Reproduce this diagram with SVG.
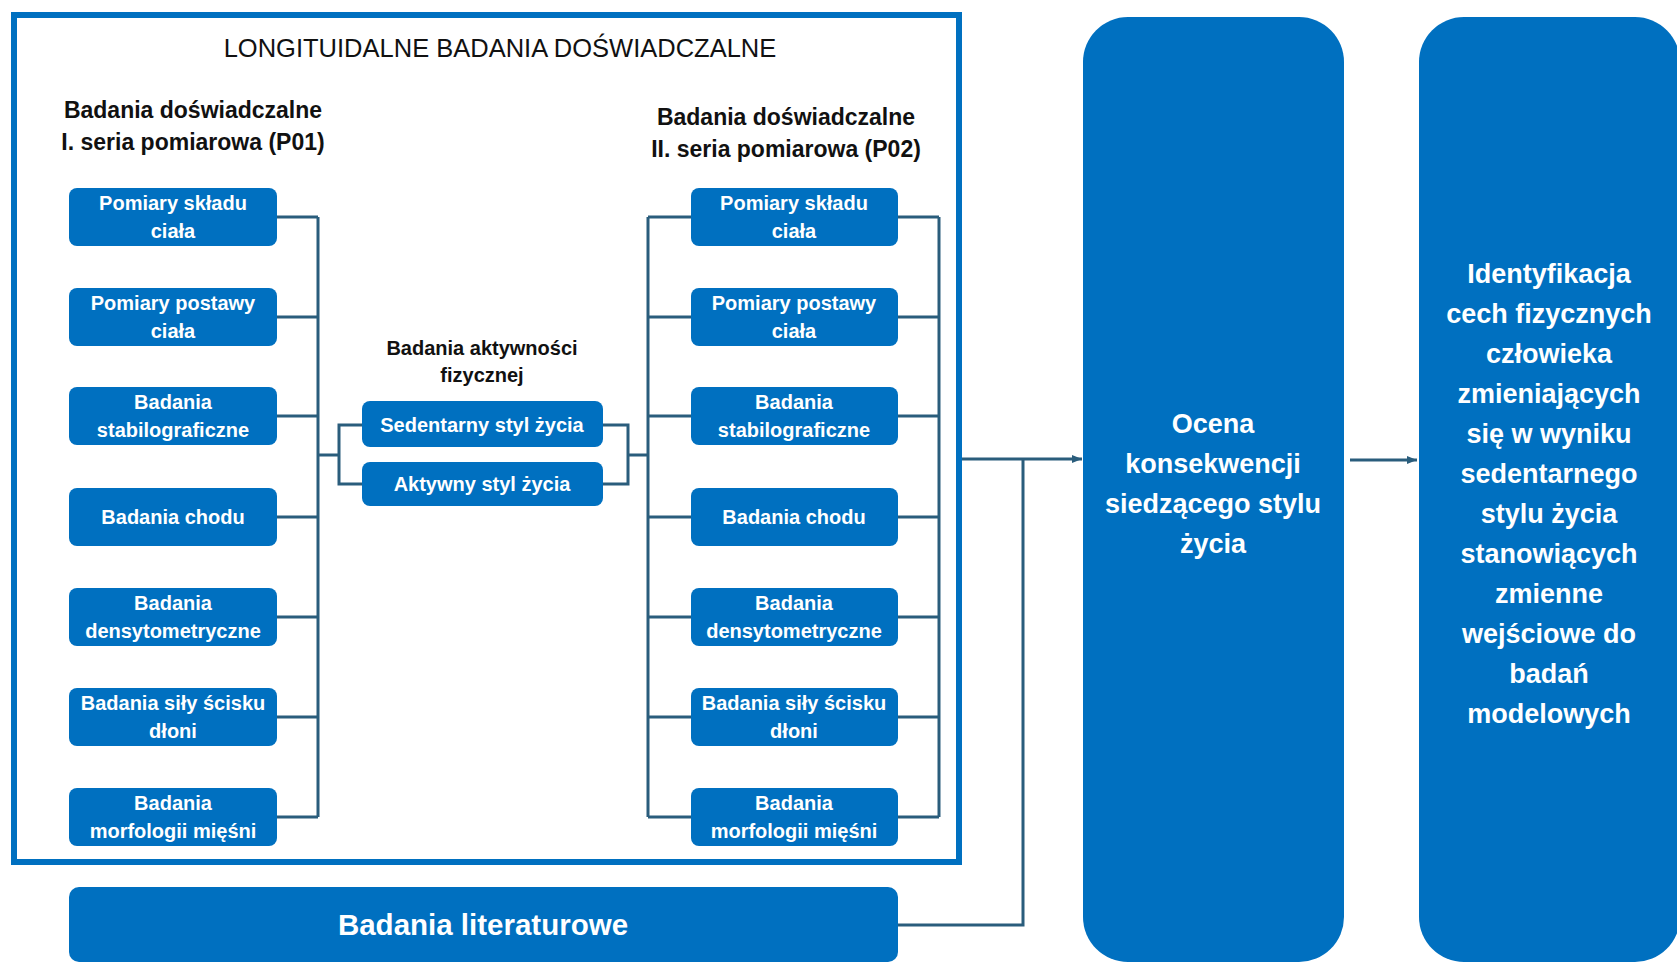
<svg xmlns="http://www.w3.org/2000/svg" width="1677" height="964" viewBox="0 0 1677 964">
<defs>
<style>
.box{fill:#0070C0}
.bt{font-family:"Liberation Sans",Arial,sans-serif;font-weight:bold;font-size:20px;fill:#fff;text-anchor:middle}
.hd{font-family:"Liberation Sans",Arial,sans-serif;font-weight:bold;font-size:23px;fill:#111;text-anchor:middle}
.mh{font-family:"Liberation Sans",Arial,sans-serif;font-weight:bold;font-size:20px;fill:#111;text-anchor:middle}
.big{font-family:"Liberation Sans",Arial,sans-serif;font-weight:bold;font-size:27px;fill:#fff;text-anchor:middle}
.ln{fill:none;stroke:#2A5D7C;stroke-width:3}
</style>
<marker id="arr" viewBox="0 0 10 10" refX="10" refY="5" markerWidth="10" markerHeight="10" markerUnits="userSpaceOnUse" orient="auto">
<path d="M0,1 L10,5 L0,9 Z" fill="#2A5D7C"/>
</marker>
</defs>
<rect width="1677" height="964" fill="#fff"/>

<g id="frame">
<rect x="14" y="15" width="945" height="847" fill="none" stroke="#0070C0" stroke-width="6"/>
<text x="500" y="57" style="font-family:'Liberation Sans',Arial,sans-serif;font-size:25.5px;fill:#111" text-anchor="middle">LONGITUIDALNE BADANIA DOŚWIADCZALNE</text>
</g>

<g id="connectors">
<path class="ln" d="M277,217 H318 M277,317 H318 M277,416 H318 M277,517 H318 M277,617 H318 M277,717 H318 M277,817 H318 M318,217 V817"/>
<path class="ln" d="M318,455 H339 M362,425 H339 V484 H362"/>
<path class="ln" d="M603,425 H628 V484 H603 M628,455 H648"/>
<path class="ln" d="M691,217 H648 M691,317 H648 M691,416 H648 M691,517 H648 M691,617 H648 M691,717 H648 M691,817 H648 M648,217 V817"/>
<path class="ln" d="M898,217 H939 M898,317 H939 M898,416 H939 M898,517 H939 M898,617 H939 M898,717 H939 M898,817 H939 M939,217 V817"/>
<path class="ln" d="M962,459 H1082" marker-end="url(#arr)"/>
<path class="ln" d="M898,925 H1023 V459"/>
<path class="ln" d="M1350,460 H1417" marker-end="url(#arr)"/>
</g>

<g id="header-left">
<text class="hd" x="193" y="118">Badania doświadczalne</text>
<text class="hd" x="193" y="150">I. seria pomiarowa (P01)</text>
</g>
<g id="header-right">
<text class="hd" x="786" y="125">Badania doświadczalne</text>
<text class="hd" x="786" y="157">II. seria pomiarowa (P02)</text>
</g>
<g id="header-mid">
<text class="mh" x="482" y="355">Badania aktywności</text>
<text class="mh" x="482" y="382">fizycznej</text>
</g>

<g id="l1"><rect class="box" x="69" y="188" width="208" height="58" rx="8"/><text class="bt" x="173" y="210">Pomiary składu</text><text class="bt" x="173" y="238">ciała</text></g>
<g id="l2"><rect class="box" x="69" y="288" width="208" height="58" rx="8"/><text class="bt" x="173" y="310">Pomiary postawy</text><text class="bt" x="173" y="338">ciała</text></g>
<g id="l3"><rect class="box" x="69" y="387" width="208" height="58" rx="8"/><text class="bt" x="173" y="409">Badania</text><text class="bt" x="173" y="437">stabilograficzne</text></g>
<g id="l4"><rect class="box" x="69" y="488" width="208" height="58" rx="8"/><text class="bt" x="173" y="524">Badania chodu</text></g>
<g id="l5"><rect class="box" x="69" y="588" width="208" height="58" rx="8"/><text class="bt" x="173" y="610">Badania</text><text class="bt" x="173" y="638">densytometryczne</text></g>
<g id="l6"><rect class="box" x="69" y="688" width="208" height="58" rx="8"/><text class="bt" x="173" y="710">Badania siły ścisku</text><text class="bt" x="173" y="738">dłoni</text></g>
<g id="l7"><rect class="box" x="69" y="788" width="208" height="58" rx="8"/><text class="bt" x="173" y="810">Badania</text><text class="bt" x="173" y="838">morfologii mięśni</text></g>

<g id="m1"><rect class="box" x="362" y="401" width="241" height="46" rx="8"/><text class="bt" x="482" y="432">Sedentarny styl życia</text></g>
<g id="m2"><rect class="box" x="362" y="462" width="241" height="44" rx="8"/><text class="bt" x="482" y="491">Aktywny styl życia</text></g>

<g id="r1"><rect class="box" x="691" y="188" width="207" height="58" rx="8"/><text class="bt" x="794" y="210">Pomiary składu</text><text class="bt" x="794" y="238">ciała</text></g>
<g id="r2"><rect class="box" x="691" y="288" width="207" height="58" rx="8"/><text class="bt" x="794" y="310">Pomiary postawy</text><text class="bt" x="794" y="338">ciała</text></g>
<g id="r3"><rect class="box" x="691" y="387" width="207" height="58" rx="8"/><text class="bt" x="794" y="409">Badania</text><text class="bt" x="794" y="437">stabilograficzne</text></g>
<g id="r4"><rect class="box" x="691" y="488" width="207" height="58" rx="8"/><text class="bt" x="794" y="524">Badania chodu</text></g>
<g id="r5"><rect class="box" x="691" y="588" width="207" height="58" rx="8"/><text class="bt" x="794" y="610">Badania</text><text class="bt" x="794" y="638">densytometryczne</text></g>
<g id="r6"><rect class="box" x="691" y="688" width="207" height="58" rx="8"/><text class="bt" x="794" y="710">Badania siły ścisku</text><text class="bt" x="794" y="738">dłoni</text></g>
<g id="r7"><rect class="box" x="691" y="788" width="207" height="58" rx="8"/><text class="bt" x="794" y="810">Badania</text><text class="bt" x="794" y="838">morfologii mięśni</text></g>

<g id="lit"><rect class="box" x="69" y="887" width="829" height="75" rx="10"/><text class="bt" x="483" y="935" style="font-size:29.5px">Badania literaturowe</text></g>

<g id="ocena"><rect class="box" x="1083" y="17" width="261" height="945" rx="45"/>
<text class="big" x="1213" y="433">Ocena</text>
<text class="big" x="1213" y="473">konsekwencji</text>
<text class="big" x="1213" y="513">siedzącego stylu</text>
<text class="big" x="1213" y="553">życia</text>
</g>

<g id="ident"><rect class="box" x="1419" y="17" width="261" height="945" rx="45"/>
<text class="big" x="1549" y="283">Identyfikacja</text>
<text class="big" x="1549" y="323">cech fizycznych</text>
<text class="big" x="1549" y="363">człowieka</text>
<text class="big" x="1549" y="403">zmieniających</text>
<text class="big" x="1549" y="443">się w wyniku</text>
<text class="big" x="1549" y="483">sedentarnego</text>
<text class="big" x="1549" y="523">stylu życia</text>
<text class="big" x="1549" y="563">stanowiących</text>
<text class="big" x="1549" y="603">zmienne</text>
<text class="big" x="1549" y="643">wejściowe do</text>
<text class="big" x="1549" y="683">badań</text>
<text class="big" x="1549" y="723">modelowych</text>
</g>
</svg>
